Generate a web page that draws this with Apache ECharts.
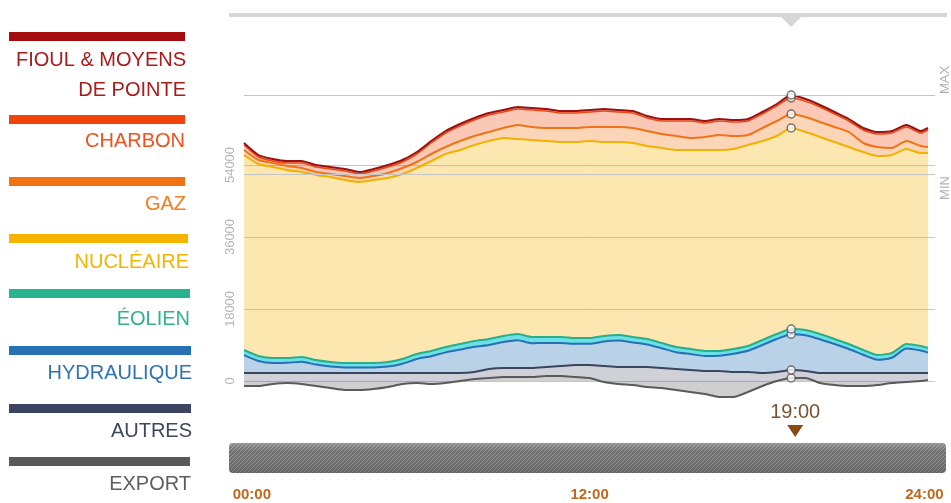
<!DOCTYPE html>
<html><head><meta charset="utf-8">
<script src="https://cdn.jsdelivr.net/npm/echarts@6/dist/echarts.min.js"></script>
<style>html,body{margin:0;padding:0;background:#fff}#c{width:951px;height:503px}</style>
</head><body><div id="c"></div>
<script>
// ---- data ----
const times = ["00:00","00:30","01:00","01:30","02:00","02:30","03:00","03:30","04:00","04:30","05:00","05:30","06:00","06:30","07:00","07:30","08:00","08:30","09:00","09:30","10:00","10:30","11:00","11:30","12:00","12:30","13:00","13:30","14:00","14:30","15:00","15:30","16:00","16:30","17:00","17:30","18:00","18:30","19:00","19:30","20:00","20:30","21:00","21:30","22:00","22:30","23:00","23:30","23:45"];
const tickLabels = ["00:00","12:00","24:00"];
const tickHours = [0, 12, 24];
const yTicks = [0, 18000, 36000, 54000];
const exportV = [-1250,-1250,-750,-500,-750,-1250,-1750,-2250,-2250,-2000,-1500,-750,-500,-750,-500,0,500,750,1000,1000,1000,1250,1250,1000,750,-250,-750,-1000,-1500,-1750,-2250,-2750,-3250,-4000,-4000,-2750,-1250,0,750,750,-500,-1000,-1250,-1250,-1000,-500,-250,0,250];
const autres = [2000,2000,2000,2000,2000,2000,2000,2000,2000,2000,2000,2000,2000,2000,2000,2000,1750,2250,2250,2250,2250,2250,2500,3000,3250,3750,3500,3500,3500,3250,3000,2750,2500,2500,2250,2250,2000,2250,2000,1750,2000,2000,2000,2000,2000,2000,2000,2000,1750];
const hydraulique = [4450,3000,2500,2550,2800,2100,1600,1400,1400,1400,1600,2300,3500,4200,5150,5850,6300,6000,6500,6950,6200,6000,5750,5300,5300,6100,6600,6150,5650,4950,4200,4000,3750,3800,4550,5300,7000,8250,8950,8950,8450,7250,6000,4550,3300,3800,6100,5600,5100];
const eolien = [1300,1250,1250,1200,1200,1150,1150,1100,1100,1100,1150,1200,1250,1300,1350,1400,1450,1500,1500,1550,1550,1500,1500,1450,1450,1400,1400,1350,1350,1300,1300,1250,1250,1200,1200,1200,1250,1250,1300,1300,1300,1250,1250,1200,1200,1200,1150,1150,1150];
const nucleaire = [48750,48000,47750,47000,46250,46250,46250,45750,45250,45750,46000,46250,46500,47500,48250,48500,49000,49500,49500,48750,49250,49000,48750,49000,49250,48500,48250,48500,48250,48750,49250,49750,50250,50250,50000,50250,49750,49500,50250,49500,49250,49250,49250,49500,49750,49500,48750,48250,48750];
const gaz = [1250,1000,1000,1000,1000,750,750,1000,1000,1000,1250,1500,1500,1750,1750,2250,2250,2250,2500,3500,3250,3250,3500,3500,3500,3750,3750,3750,3750,3500,3500,3000,3250,3750,3250,2500,3250,3750,3500,3750,3750,3750,3750,2250,2250,1750,2000,1750,1500];
const charbon = [1250,750,500,750,1250,1250,1250,1250,1000,1250,1500,1500,2000,2750,3500,3750,4000,4250,4000,4000,4250,4250,3750,3750,3750,4000,3750,3750,3250,3250,3750,4250,3500,3500,3500,3500,3500,3750,4050,3900,3750,3250,2750,3250,3250,3750,3500,3250,4250];
const fioul = [500,500,500,500,500,500,500,500,500,500,500,500,500,500,500,500,500,500,500,500,500,500,500,500,500,500,500,500,500,500,500,500,500,500,500,500,500,500,700,600,500,500,500,500,500,500,500,500,500];
const refMax = 71500;
const refMin = 51750;
const selectedTime = "19:00";
const legendNames = [["FIOUL & MOYENS","DE POINTE"],["CHARBON"],["GAZ"],["NUCLÉAIRE"],["ÉOLIEN"],["HYDRAULIQUE"],["AUTRES"],["EXPORT"]];

// ---- styles / layout ----
const legendBar = ['#a30d0d','#f0440a','#f07210','#f6b300','#27b38c','#2770b3','#3b4560','#595959'];
const legendText = ['#a81c1c','#f0521e','#f07e1e','#f5b400','#30b290','#2e74b5','#3e4660','#5e5e5e'];
const barTop = [32,115,177,234,289,346,404,457];
const barRight = [185,185,185,188,190,191,191,190];
const textYs = [[60,90],[141],[204],[262],[319],[373],[431],[484]];
const textRight = [186,185,186,189,190,192,192,191];

const HOUR = 3600000;
const base = new Date(2020, 0, 1, 0, 0, 0).getTime();
const stamps = times.map(t => { const p = t.split(':').map(Number); return base + (p[0] + p[1]/60) * HOUR; });
const layers = [
  {name:'EXPORT', data:exportV, line:'#5a5a5a', area:'rgba(95,95,95,0.30)', w:2},
  {name:'AUTRES', data:autres, line:'#3b4560', area:'rgba(70,75,105,0.26)', w:2},
  {name:'HYDRAULIQUE', data:hydraulique, line:'#2770b3', area:'rgba(39,114,179,0.32)', w:2},
  {name:'ÉOLIEN', data:eolien, line:'#29ad8a', area:'rgba(80,220,228,0.85)', w:2},
  {name:'NUCLÉAIRE', data:nucleaire, line:'#f2b000', area:'rgba(245,179,0,0.31)', w:2},
  {name:'GAZ', data:gaz, line:'#ee7416', area:'rgba(240,117,16,0.30)', w:2},
  {name:'CHARBON', data:charbon, line:'#ea4a14', area:'rgba(240,74,10,0.30)', w:1.5},
  {name:'FIOUL', data:fioul, line:'#9c1010', area:'rgba(165,13,13,0.30)', w:2}
];

const series = layers.map((L, k) => ({
  name: L.name, type:'line', stack:'total', smooth:0.2, showSymbol:false, symbol:'none',
  xAxisIndex:0, yAxisIndex:0,
  data: stamps.map((s,i)=>[s, L.data[i]]),
  lineStyle:{color:L.line, width:L.w},
  areaStyle:{color:L.area, opacity:1},
  itemStyle:{color:L.line},
  emphasis:{disabled:true}, silent:true, z:2,
  markLine: k === layers.length-1 ? {
    silent:true, symbol:'none', label:{show:false},
    lineStyle:{color:'#c4c4c4', width:1, type:'solid'},
    data:[{yAxis:refMax},{yAxis:refMin}]
  } : undefined
}));

const idx = times.indexOf(selectedTime);
let pos = 0, neg = 0; const markerPts = [];
layers.forEach(L => { const v = L.data[idx]; if (v >= 0) { pos += v; markerPts.push([stamps[idx], pos]); } else { neg += v; markerPts.push([stamps[idx], neg]); } });
series.push({type:'scatter', xAxisIndex:0, yAxisIndex:0, data:markerPts, symbol:'circle', symbolSize:8, silent:true, z:6,
  itemStyle:{color:'#fff', borderColor:'#555', borderWidth:1.5}});

const tl = {fontFamily:'Liberation Sans', fontWeight:'bold', fontSize:15, color:'#c0671d'};
const labelFor = v => { const k = tickHours.indexOf(v); return k === 0 ? '{a|'+tickLabels[0]+'}' : k === 1 ? '{b|'+tickLabels[1]+'}' : k === 2 ? '{c|'+tickLabels[2]+'}' : ''; };
const chart = echarts.init(document.getElementById('c'), null, {renderer:'canvas'});
chart.setOption({
  animation:false,
  backgroundColor:'#fff',
  grid:{left:244, right:951-935.2, top:93, bottom:50},
  xAxis:[
    {type:'time', min:base, max:base + 24*HOUR, position:'bottom',
     axisLine:{show:false, onZero:false}, axisTick:{show:false}, splitLine:{show:false}, minorSplitLine:{show:false},
     axisLabel:{show:false}},
    {type:'value', min:0, max:24, interval:12, position:'bottom', offset:0,
     axisLine:{show:false, onZero:false}, axisTick:{show:false}, splitLine:{show:false},
     axisLabel:{margin:34, showMinLabel:true, showMaxLabel:true, formatter:labelFor,
       rich:{a:Object.assign({width:54, align:'right'}, tl), b:Object.assign({}, tl), c:Object.assign({width:60, align:'left'}, tl)}}}
  ],
  yAxis:{type:'value', min:-18000, max:72000, interval:18000,
    axisLine:{show:false}, axisTick:{show:false},
    axisLabel:{rotate:90, margin:7, color:'#b5b5b5', fontSize:13, fontFamily:'Liberation Sans',
      formatter:v => yTicks.indexOf(v) >= 0 ? String(v) : ''},
    splitLine:{show:true, showMinLine:false, showMaxLine:false, lineStyle:{color:'#c6c6c6', width:1}}},
  series: series
});

const px19 = chart.convertToPixel({xAxisIndex:0, yAxisIndex:0}, [stamps[idx], 0])[0];
const yMax = chart.convertToPixel({xAxisIndex:0, yAxisIndex:0}, [stamps[0], refMax])[1];
const yMin = chart.convertToPixel({xAxisIndex:0, yAxisIndex:0}, [stamps[0], refMin])[1];

const pc = document.createElement('canvas'); pc.width = 4; pc.height = 4;
const g = pc.getContext('2d'); g.fillStyle = '#6e6e6e'; g.fillRect(0,0,4,4);
g.strokeStyle = '#959595'; g.lineWidth = 1;
g.beginPath(); g.moveTo(0,4); g.lineTo(4,0); g.moveTo(-2,2); g.lineTo(2,-2); g.moveTo(2,6); g.lineTo(6,2); g.stroke();

const graphic = [
  {type:'rect', shape:{x:229, y:13, width:718, height:4}, style:{fill:'#d6d6d6'}, silent:true},
  {type:'polygon', shape:{points:[[px19-10,17],[px19+10,17],[px19,27]]}, style:{fill:'#d6d6d6'}, silent:true},
  {type:'rect', shape:{x:229, y:443, width:717, height:30, r:4}, style:{fill:{image:pc, repeat:'repeat'}}, silent:true},
  {type:'rect', shape:{x:229, y:443, width:717, height:30, r:4}, style:{fill:new echarts.graphic.LinearGradient(0,0,0,1,[{offset:0,color:'rgba(255,255,255,0.25)'},{offset:0.3,color:'rgba(255,255,255,0)'},{offset:1,color:'rgba(0,0,0,0.12)'}])}, silent:true},
  {type:'text', x:px19+4, y:412, style:{text:selectedTime, font:'20px "Liberation Sans"', fill:'#7b5533', align:'center', verticalAlign:'middle'}, silent:true},
  {type:'polygon', shape:{points:[[px19-4,425],[px19+12,425],[px19+4,437]]}, style:{fill:'#8b4a12'}, silent:true},
  {type:'text', x:945, y:yMax-15, rotation:Math.PI/2, style:{text:'MAX', font:'13px "Liberation Sans"', fill:'#b0b0b0', align:'center', verticalAlign:'middle'}, silent:true},
  {type:'text', x:945, y:yMin+14, rotation:Math.PI/2, style:{text:'MIN', font:'13px "Liberation Sans"', fill:'#b0b0b0', align:'center', verticalAlign:'middle'}, silent:true}
];
legendNames.forEach((lines, i) => {
  graphic.push({type:'rect', shape:{x:9, y:barTop[i], width:barRight[i]-9, height:9}, style:{fill:legendBar[i]}, silent:true});
  lines.forEach((t, j) => {
    graphic.push({type:'text', x:textRight[i], y:textYs[i][j], style:{text:t, font:'20px "Liberation Sans"', fill:legendText[i], align:'right', verticalAlign:'middle'}, silent:true});
  });
});
chart.setOption({graphic: graphic});
</script></body></html>
